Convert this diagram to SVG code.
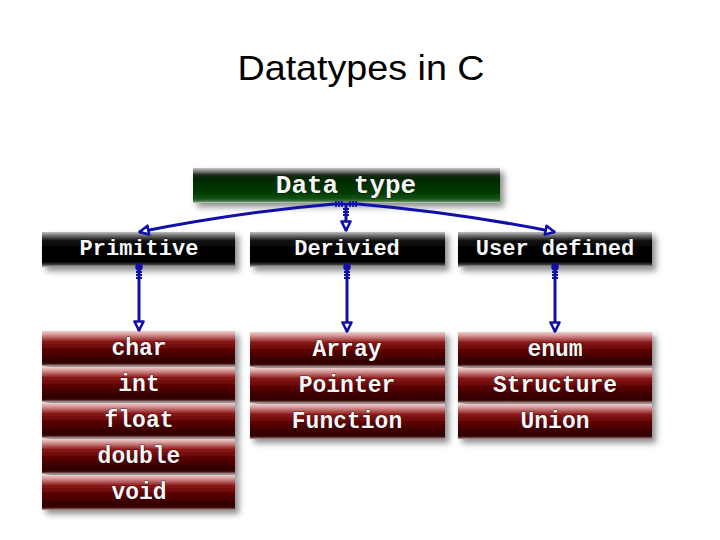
<svg xmlns="http://www.w3.org/2000/svg" width="720" height="540" viewBox="0 0 720 540">
<defs>
<linearGradient id="gGreen" x1="0" y1="0" x2="0" y2="1">
<stop offset="0" stop-color="#c8c8c8"/>
<stop offset="0.08" stop-color="#8a8a8a"/>
<stop offset="0.2" stop-color="#1a2a1a"/>
<stop offset="0.3" stop-color="#002800"/>
<stop offset="0.7" stop-color="#003a00"/>
<stop offset="0.88" stop-color="#145214"/>
<stop offset="0.95" stop-color="#4a7a4a"/>
<stop offset="1" stop-color="#d0d8d0"/>
</linearGradient>
<linearGradient id="gBlack" x1="0" y1="0" x2="0" y2="1">
<stop offset="0" stop-color="#c0c0c0"/>
<stop offset="0.1" stop-color="#707070"/>
<stop offset="0.25" stop-color="#101010"/>
<stop offset="0.5" stop-color="#000"/>
<stop offset="0.86" stop-color="#000"/>
<stop offset="0.93" stop-color="#404040"/>
<stop offset="1" stop-color="#b8b8b8"/>
</linearGradient>
<linearGradient id="gRed" x1="0" y1="0" x2="0" y2="1">
<stop offset="0" stop-color="#ecd0d0"/>
<stop offset="0.1" stop-color="#d89898"/>
<stop offset="0.3" stop-color="#8a1818"/>
<stop offset="0.55" stop-color="#5a0000"/>
<stop offset="0.86" stop-color="#300000"/>
<stop offset="0.93" stop-color="#400808"/>
<stop offset="1" stop-color="#b0a0a0"/>
</linearGradient>
<filter id="sh" x="-10%" y="-20%" width="125%" height="160%">
<feDropShadow dx="4" dy="4" stdDeviation="3" flood-color="#000" flood-opacity="0.45"/>
</filter>
<marker id="arr" viewBox="0 0 12 12" refX="11" refY="6" markerWidth="12" markerHeight="12" markerUnits="userSpaceOnUse" orient="auto">
<path d="M1.5,1.5 L10.5,6 L1.5,10.5 z" fill="#fff" stroke="#1010a8" stroke-width="2.6" stroke-linejoin="round"/>
</marker>
</defs>
<style>
.t{font-family:"Liberation Mono","Courier New",monospace;font-weight:bold;fill:#f6f6f6;stroke:#000;stroke-width:0.7;paint-order:stroke;text-anchor:middle}
.h{font-size:22px}
.r{font-size:23px}
.c{fill:none;stroke:#1010a8;stroke-width:3}
.k{fill:none;stroke:#1010a8;stroke-width:1.8}
.d{fill:#1010a8;stroke:#1010a8;stroke-width:1.5}
</style>
<rect width="720" height="540" fill="#fff"/>
<text x="361" y="80" font-family="Liberation Sans, Arial, sans-serif" font-size="35" fill="#000" text-anchor="middle" textLength="247" lengthAdjust="spacingAndGlyphs">Datatypes in C</text>

<g id="datatype">
<rect x="193" y="168" width="307" height="35" fill="url(#gGreen)" filter="url(#sh)"/>
<text class="t" x="346" y="193" font-size="26">Data type</text>
</g>

<g id="primitive">
<rect x="42" y="232" width="193" height="35" fill="url(#gBlack)" filter="url(#sh)"/>
<text class="t h" x="139" y="255">Primitive</text>
</g>
<g id="derived">
<rect x="250" y="232" width="195" height="35" fill="url(#gBlack)" filter="url(#sh)"/>
<text class="t h" x="347" y="255">Derivied</text>
</g>
<g id="userdefined">
<rect x="458" y="232" width="194" height="35" fill="url(#gBlack)" filter="url(#sh)"/>
<text class="t h" x="555" y="255">User defined</text>
</g>

<g id="primitive-list">
<g filter="url(#sh)">
<rect x="42" y="331" width="193" height="35" fill="url(#gRed)"/>
<rect x="42" y="367" width="193" height="35" fill="url(#gRed)"/>
<rect x="42" y="403" width="193" height="35" fill="url(#gRed)"/>
<rect x="42" y="439" width="193" height="35" fill="url(#gRed)"/>
<rect x="42" y="475" width="193" height="35" fill="url(#gRed)"/>
</g>
<text class="t r" x="139" y="355">char</text>
<text class="t r" x="139" y="391">int</text>
<text class="t r" x="139" y="427">float</text>
<text class="t r" x="139" y="463">double</text>
<text class="t r" x="139" y="499">void</text>
</g>

<g id="derived-list">
<g filter="url(#sh)">
<rect x="250" y="332" width="195" height="35" fill="url(#gRed)"/>
<rect x="250" y="368" width="195" height="35" fill="url(#gRed)"/>
<rect x="250" y="404" width="195" height="35" fill="url(#gRed)"/>
</g>
<text class="t r" x="347" y="356">Array</text>
<text class="t r" x="347" y="392">Pointer</text>
<text class="t r" x="347" y="428">Function</text>
</g>

<g id="user-list">
<g filter="url(#sh)">
<rect x="458" y="332" width="194" height="35" fill="url(#gRed)"/>
<rect x="458" y="368" width="194" height="35" fill="url(#gRed)"/>
<rect x="458" y="404" width="194" height="35" fill="url(#gRed)"/>
</g>
<text class="t r" x="555" y="356">enum</text>
<text class="t r" x="555" y="392">Structure</text>
<text class="t r" x="555" y="428">Union</text>
</g>

<g id="connectors">
<path class="c" d="M334,204 Q240,212 139,232" marker-end="url(#arr)"/>
<path class="c" d="M358,204 Q460,213 555,232" marker-end="url(#arr)"/>
<line class="c" x1="334" y1="204" x2="358" y2="204"/>
<path class="c" d="M346,204 L346,231" marker-end="url(#arr)"/>
<path class="k" d="M336,201 v6 M339,201 v6 M342,201 v6 M350,201 v6 M353,201 v6 M356,201 v6 M343,209 h6 M343,212 h6 M343,215 h6"/>
<circle class="d" cx="139" cy="267" r="3"/>
<path class="c" d="M139,267 L139,331" marker-end="url(#arr)"/>
<path class="k" d="M136,272 h6 M136,275 h6 M136,278 h6"/>
<circle class="d" cx="347" cy="267" r="3"/>
<path class="c" d="M347,267 L347,332" marker-end="url(#arr)"/>
<path class="k" d="M344,272 h6 M344,275 h6 M344,278 h6"/>
<circle class="d" cx="555" cy="267" r="3"/>
<path class="c" d="M555,267 L555,332" marker-end="url(#arr)"/>
<path class="k" d="M552,272 h6 M552,275 h6 M552,278 h6"/>
</g>
</svg>
